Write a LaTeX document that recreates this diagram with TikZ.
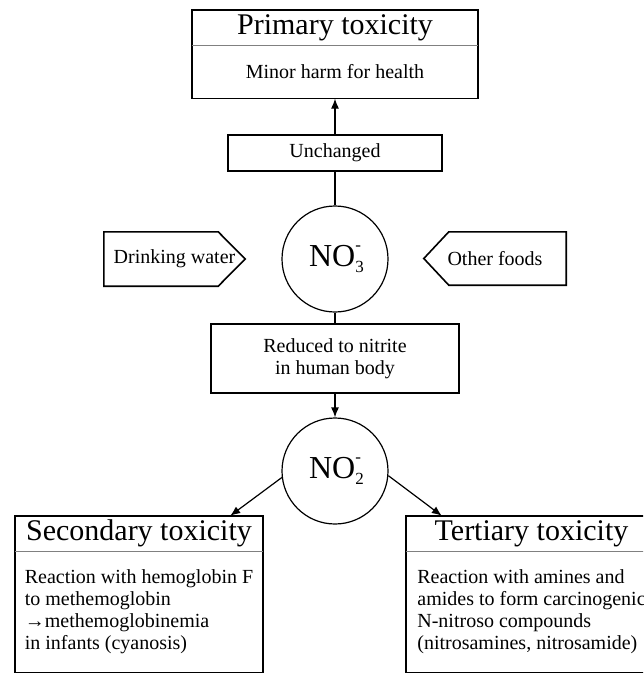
\documentclass[tikz,border=0pt]{standalone}
\usepackage{fontspec}
\setmainfont{Liberation Serif}
\usepackage{tikz}
\usetikzlibrary{arrows.meta, positioning}

\newcommand{\nitro}[1]{NO\rlap{\raisebox{-6pt}{\fontsize{17}{17}\selectfont #1}}\raisebox{16pt}{\fontsize{17}{17}\selectfont -}}

\begin{document}
\begin{tikzpicture}[
    x=1pt, y=-1pt,
    title/.style={inner sep=0pt, minimum height=35pt, font=\fontsize{30}{32}\selectfont},
    body/.style={inner sep=0pt, align=left, font=\fontsize{20}{22}\selectfont},
    box/.style={draw, line width=1.6pt, inner sep=0pt, align=center, font=\fontsize{20}{22}\selectfont},
    ion/.style={draw, circle, line width=1.2pt, minimum size=106pt, inner sep=0pt,
               font=\fontsize{32}{34}\selectfont},
    src/.style={inner sep=0pt, minimum height=54pt, font=\fontsize{20}{22}\selectfont},
    frame/.style={line width=1.6pt},
    split/.style={line width=0.8pt, draw=gray},
    link/.style={line width=1.2pt},
    arrow/.style={-{Latex[length=10pt,width=8pt]}, line width=1.2pt}
]
\useasboundingbox (0,0) rectangle (643,675);
\clip (0,0) rectangle (643,675);

\node[title, minimum width=286pt] (prim) at (335,27.5) {Primary toxicity};
\node[body, minimum width=286pt, minimum height=53pt, below=0pt of prim] (primtxt) {Minor harm for health};
\draw[frame] (prim.north west) rectangle (primtxt.south east);
\draw[split] (prim.south west) -- (prim.south east);

\node[box, minimum width=214pt, minimum height=36pt] (unch) at (335,153) {Unchanged};
\node[ion] (no3) at (335,259) {\nitro{3}};

% intake sources
\node[src, minimum width=141pt] (drink) at (174.5,259) {Drinking water};
\draw[frame] (drink.north west) -- ([xshift=-27pt]drink.north east) -- (drink.east)
    -- ([xshift=-27pt]drink.south east) -- (drink.south west) -- cycle;
\node[src, minimum width=142pt, minimum height=53pt] (food) at (495,258.5) {Other foods};
\draw[frame] (food.west) -- ([xshift=25pt]food.north west) -- (food.north east)
    -- (food.south east) -- ([xshift=25pt]food.south west) -- cycle;

\node[box, minimum width=248pt, minimum height=69pt] (red) at (335,358.5) {Reduced to nitrite\\in human body};
\node[ion] (no2) at (335,471) {\nitro{2}};

\node[title, minimum width=248pt] (sec) at (139,533.5) {Secondary toxicity};
\node[body, minimum width=248pt, minimum height=121pt, below=0pt of sec] (sectxt)
    {Reaction with hemoglobin F\\to methemoglobin\\→methemoglobinemia\\in infants (cyanosis)};
\draw[frame] (sec.north west) rectangle (sectxt.south east);
\draw[split] (sec.south west) -- (sec.south east);

\node[title, minimum width=251pt] (ter) at (531.5,533.5) {Tertiary toxicity};
\node[body, minimum width=251pt, minimum height=121pt, below=0pt of ter] (tertxt)
    {Reaction with amines and\\amides to form carcinogenic\\N-nitroso compounds\\(nitrosamines, nitrosamide)};
\draw[frame] (ter.north west) rectangle (tertxt.south east);
\draw[split] (ter.south west) -- (ter.south east);

\draw[arrow] (unch) -- (primtxt);
\draw[link] (no3) -- (unch);
\draw[link] (no3) -- (red);
\draw[arrow] (red) -- (no2);
\draw[arrow] (no2.187) -- ([xshift=-33pt]sec.north east);
\draw[arrow] (no2.-5) -- ([xshift=36pt]ter.north west);
\end{tikzpicture}
\end{document}
